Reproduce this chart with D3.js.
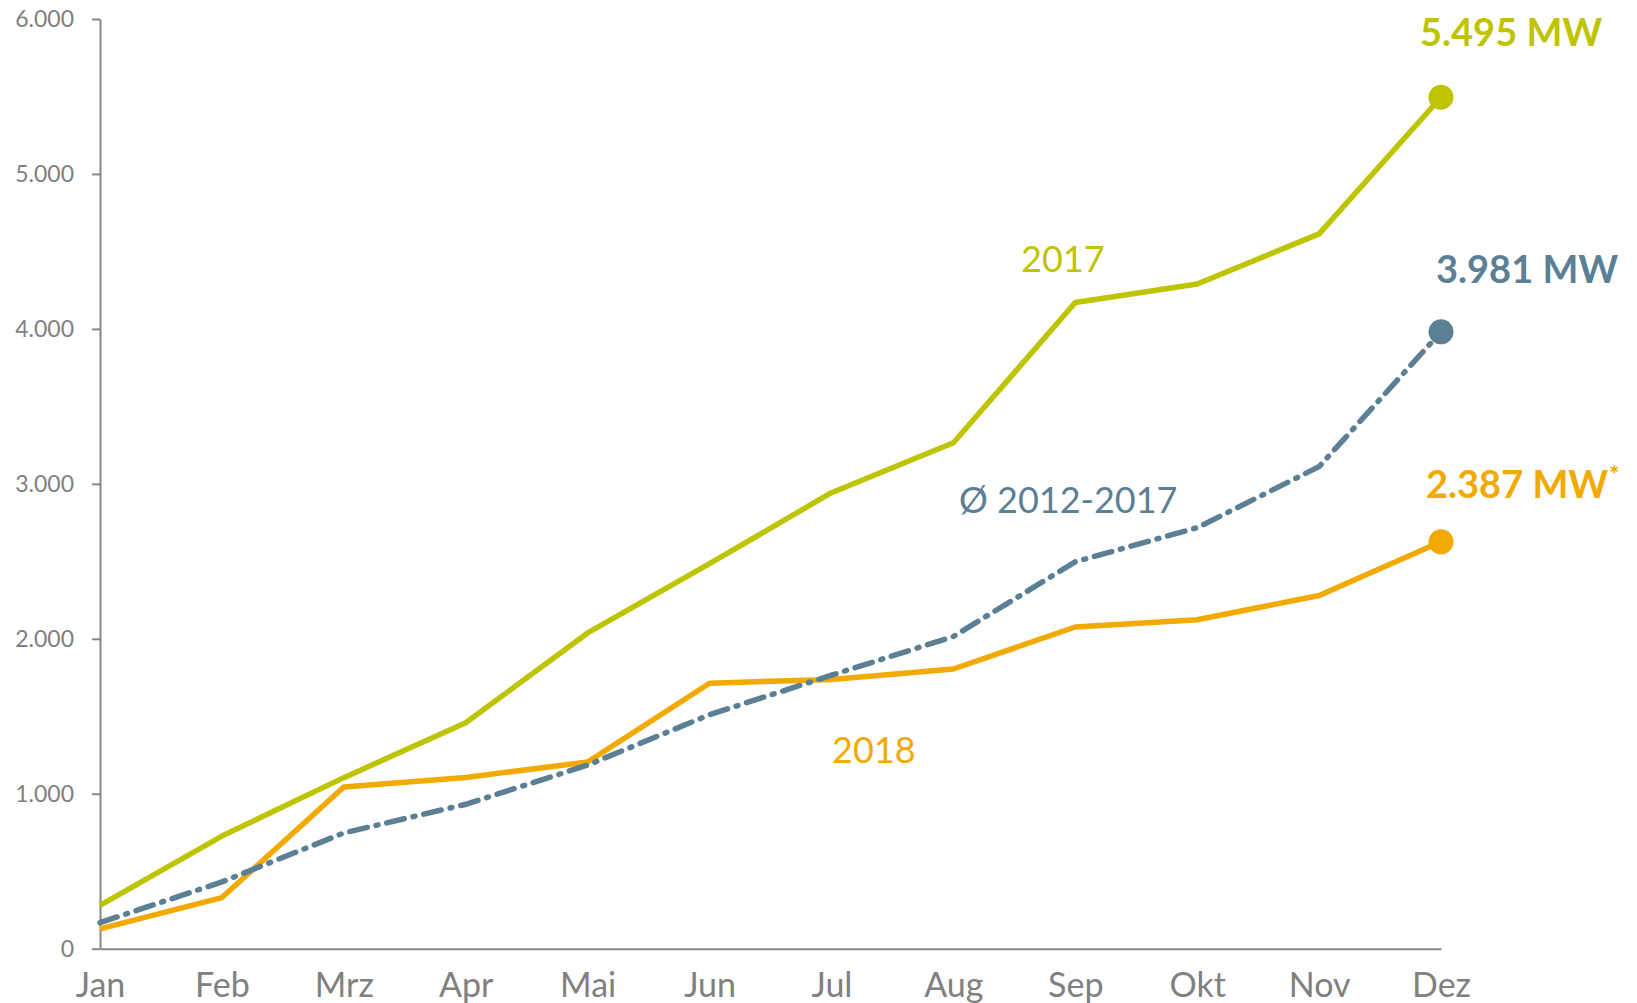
<!DOCTYPE html>
<html>
<head>
<meta charset="utf-8">
<script src="https://cdn.jsdelivr.net/npm/d3@7"></script>
<style>
  html, body { margin: 0; padding: 0; background: #fff; }
  svg { display: block; font-family: Lato, "Open Sans", sans-serif; }
</style>
</head>
<body>
<svg id="chart" width="1637" height="1003"></svg>
<script>
// ---- Data ----
const months = ["Jan", "Feb", "Mrz", "Apr", "Mai", "Jun", "Jul", "Aug", "Sep", "Okt", "Nov", "Dez"];
const values2017 = [280, 727, 1104, 1458, 2038, 2485, 2943, 3265, 4170, 4290, 4613, 5495];
const valuesAvg = [168, 431, 747, 932, 1185, 1510, 1765, 2015, 2497, 2717, 3111, 3981];
const values2018 = [128, 330, 1044, 1105, 1205, 1713, 1738, 1805, 2076, 2123, 2279, 2626];
const yTicks = [0, 1000, 2000, 3000, 4000, 5000, 6000];
const seriesNames = ["2017", "Ø 2012-2017", "2018"];
const endLabels = ["5.495 MW", "3.981 MW", "2.387 MW"];

// ---- Styles ----
const colors = { y2017: "#bfc400", avg: "#5b7f95", y2018: "#f2a900" };
const axisColor = "#878787";

const svg = d3.select("#chart");
const x = d3.scalePoint().domain(months).range([100, 1441]);
const y = d3.scaleLinear().domain([0, 6000]).range([948.7, 19]);

const locale = d3.formatLocale({ decimal: ",", thousands: ".", grouping: [3], currency: ["", "€"] });
const fmt = locale.format(",");

// Y axis
const yAxis = svg.append("g")
  .attr("transform", "translate(100,0)")
  .call(d3.axisLeft(y).tickValues(yTicks).tickFormat(fmt).tickSize(8).tickSizeOuter(0).tickPadding(18));
yAxis.select(".domain").attr("stroke", axisColor).attr("stroke-width", 2);
yAxis.selectAll(".tick line").attr("stroke", axisColor).attr("stroke-width", 2);
yAxis.selectAll(".tick text").attr("fill", "#808080").style("font-size", "23px").style("font-family", "Lato, sans-serif");

// X axis
const xAxis = svg.append("g")
  .attr("transform", "translate(0,948.7)")
  .call(d3.axisBottom(x).tickSize(0).tickSizeOuter(0));
xAxis.select(".domain").attr("stroke", axisColor).attr("stroke-width", 2);
xAxis.selectAll(".tick text")
  .attr("y", 48).attr("dy", 0)
  .attr("fill", "#808080").style("font-size", "34px").style("font-family", "Lato, sans-serif");

const line = d3.line()
  .x((d, i) => x(months[i]))
  .y(d => y(d));

function drawSeries(values, color, dash) {
  const p = svg.append("path")
    .datum(values)
    .attr("d", line)
    .attr("fill", "none")
    .attr("stroke", color)
    .attr("stroke-width", 5.5)
    .attr("stroke-linejoin", "round");
  if (dash) p.attr("stroke-dasharray", dash).attr("stroke-linecap", "round");
  const last = values.length - 1;
  svg.append("circle")
    .attr("cx", x(months[last]))
    .attr("cy", y(values[last]))
    .attr("r", 12.5)
    .attr("fill", color);
}

drawSeries(values2018, colors.y2018, null);
drawSeries(valuesAvg, colors.avg, "18 9 2 9");
drawSeries(values2017, colors.y2017, null);

// Series labels
svg.append("text").attr("x", 1021).attr("y", 272).attr("fill", colors.y2017)
  .style("font-size", "36px").text(seriesNames[0]);
svg.append("text").attr("x", 959).attr("y", 513).attr("fill", colors.avg)
  .style("font-size", "36px").text(seriesNames[1]);
svg.append("text").attr("x", 832).attr("y", 763).attr("fill", colors.y2018)
  .style("font-size", "36px").text(seriesNames[2]);

// End labels
svg.append("text").attr("x", 1420).attr("y", 46).attr("fill", colors.y2017)
  .style("font-size", "38px").style("font-weight", "bold").text(endLabels[0]);
svg.append("text").attr("x", 1436).attr("y", 283).attr("fill", colors.avg)
  .style("font-size", "38px").style("font-weight", "bold").text(endLabels[1]);
const t3 = svg.append("text").attr("x", 1426).attr("y", 498).attr("fill", colors.y2018)
  .style("font-size", "38px").style("font-weight", "bold");
t3.append("tspan").text(endLabels[2]);
t3.append("tspan").attr("dx", 1).attr("dy", -14).style("font-size", "24px").text("*");
</script>
</body>
</html>
